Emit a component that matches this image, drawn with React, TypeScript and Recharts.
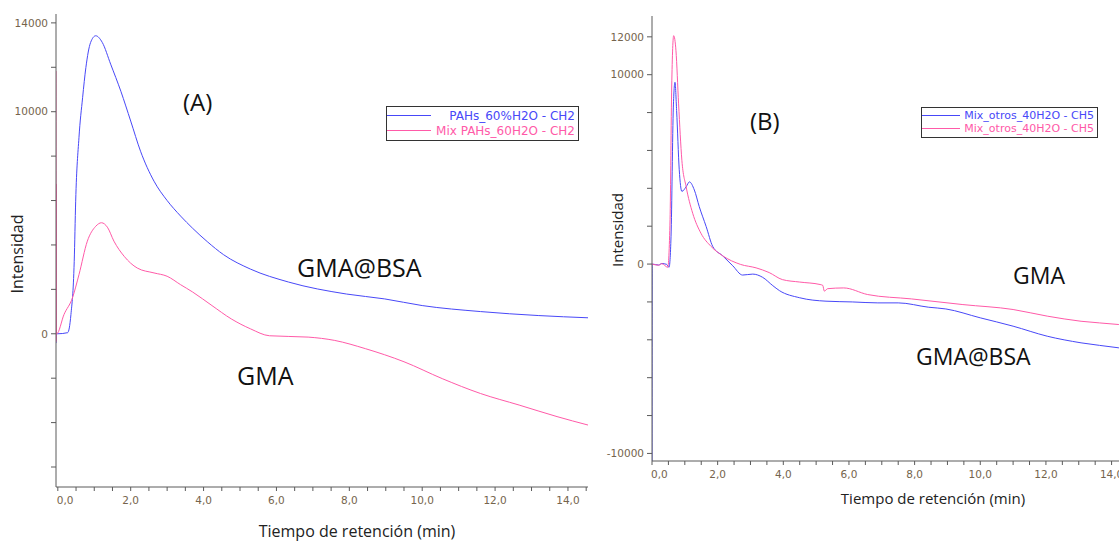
import { LineChart, Line, XAxis, YAxis, Legend, Label } from 'recharts';

// =============================================================================
// Data
// =============================================================================

// (A) retention time (min) / intensity
const timeA_bsa = [-0.05, -0.04, 0.0, 0.27, 0.36, 0.45, 0.49, 0.58, 0.68, 0.77, 0.9, 1.04, 1.22, 1.45, 1.73, 2.0, 2.27, 2.64, 3.0, 3.37, 3.7, 4.1, 4.55, 5.29, 6.33, 7.92, 8.97, 10.0, 11.6, 13.2, 14.55];
const intA_bsa = [-420, 0, 0, 50, 870, 3260, 5970, 8830, 10630, 11990, 13120, 13420, 13120, 12140, 10920, 9580, 8220, 6870, 6000, 5300, 4750, 4150, 3560, 2910, 2330, 1790, 1570, 1270, 1000, 820, 720];

const timeA_gma = [-0.05, -0.048, -0.046, -0.044, -0.03, 0.17, 0.4, 0.58, 0.81, 1.04, 1.2, 1.36, 1.54, 1.82, 2.18, 2.64, 3.0, 3.37, 3.7, 4.23, 4.76, 5.29, 5.81, 6.87, 7.6, 8.44, 9.5, 10.55, 11.6, 12.66, 13.7, 14.55];
const intA_gma = [11830, -350, 6740, 0, 0, 870, 1610, 2660, 4170, 4840, 5000, 4800, 4170, 3490, 2960, 2740, 2590, 2210, 1880, 1270, 670, 220, -90, -150, -300, -670, -1260, -2020, -2690, -3210, -3730, -4110];

// (B)
const timeB_bsa = [0, 0.005, 0.2, 0.3, 0.45, 0.52, 0.58, 0.65, 0.7, 0.75, 0.83, 0.91, 1.04, 1.14, 1.29, 1.44, 1.65, 1.85, 2.15, 2.46, 2.76, 3.07, 3.37, 3.68, 3.88, 4.5, 5.3, 6.1, 6.88, 7.5, 8.43, 8.95, 10.0, 11.0, 12.04, 13.07, 14.2, 14.5];
const intB_bsa = [-10400, 0, -50, 30, -20, -170, 1470, 8290, 9600, 8110, 4980, 3840, 4080, 4340, 3910, 3030, 1980, 930, 440, -90, -580, -530, -700, -1140, -1400, -1780, -1960, -2000, -2050, -2050, -2280, -2370, -2840, -3280, -3810, -4160, -4420, -4500];

const timeB_gma = [0, 0.2, 0.3, 0.48, 0.55, 0.6, 0.66, 0.73, 0.81, 0.91, 1.04, 1.24, 1.49, 1.8, 2.15, 2.7, 3.17, 3.57, 3.97, 4.5, 5.12, 5.2, 5.25, 5.35, 5.84, 6.57, 7.9, 9.47, 11.0, 12.04, 13.07, 14.2, 14.5];
const intB_gma = [0, -60, 20, -170, 2360, 9350, 12060, 11270, 8460, 5480, 4080, 2680, 1630, 930, 440, -20, -200, -450, -820, -950, -1080, -1120, -1430, -1300, -1260, -1610, -1840, -2140, -2400, -2750, -3020, -3190, -3250];

// axis ticks
const timeTicks = [0, 0.5, 1, 1.5, 2, 2.5, 3, 3.5, 4, 4.5, 5, 5.5, 6, 6.5, 7, 7.5, 8, 8.5, 9, 9.5, 10, 10.5, 11, 11.5, 12, 12.5, 13, 13.5, 14, 14.5];
const intTicksA = [-6000, -4000, -2000, 0, 2000, 4000, 6000, 8000, 10000, 12000, 14000];
const intLabelsA = [0, 10000, 14000];
const intTicksB = [-10000, -8000, -6000, -4000, -2000, 0, 2000, 4000, 6000, 8000, 10000, 12000];
const intLabelsB = [-10000, 0, 10000, 12000];

const legendA = ['PAHs_60%H2O - CH2', 'Mix PAHs_60H2O - CH2'];
const legendB = ['Mix_otros_40H2O - CH5', 'Mix_otros_40H2O - CH5'];

// =============================================================================
// Styles
// =============================================================================

const BLUE = '#4848f8';
const PINK = '#ff5aa8';
const AXIS = '#5a5a5a';
const TICK = { fontFamily: 'DejaVu Sans', fontSize: 10.5, fill: '#75644c' };
const TITLE_FONT = 'Open Sans';

const toRows = (t: number[], v: number[]) => t.map((x, i) => ({ t: x, v: v[i] }));
const fmtTime = (v: number) => (v % 2 === 0 ? v.toFixed(1).replace('.', ',') : '');

// x tick: first label sits to the right of the axis corner
function TimeTick({ x, y, payload }: any) {
  const label = fmtTime(payload.value);
  if (!label) return null;
  const first = payload.value === 0;
  return (
    <text x={first ? x - 1 : x} y={y} dy="0.71em" textAnchor={first ? 'start' : 'middle'} style={TICK}>
      {label}
    </text>
  );
}

function LegendBox({ payload, lineLen, rowH, fontSize }: any) {
  return (
    <div
      style={{
        border: '1.5px solid #333',
        background: '#fff',
        boxSizing: 'border-box',
        padding: '1px 3px 2px 0',
        fontFamily: 'DejaVu Sans',
        fontSize,
      }}
    >
      {(payload || []).map((p: any, i: number) => (
        <div key={i} style={{ display: 'flex', alignItems: 'center', height: rowH }}>
          <span style={{ width: lineLen, borderTop: `1.5px solid ${p.color}` }} />
          <span style={{ flex: 1, textAlign: 'right', color: p.color, whiteSpace: 'nowrap' }}>{p.value}</span>
        </div>
      ))}
    </div>
  );
}

function Note({ text, left, top, size }: { text: string; left: number; top: number; size: number }) {
  return (
    <div
      style={{
        position: 'absolute',
        left,
        top,
        fontFamily: TITLE_FONT,
        fontSize: size,
        lineHeight: 1,
        color: '#111',
        whiteSpace: 'nowrap',
      }}
    >
      {text}
    </div>
  );
}

const yTitle = (x: number, y: number, size: number) => () => (
  <text
    x={x}
    y={y}
    transform={`rotate(-90, ${x}, ${y})`}
    textAnchor="middle"
    dominantBaseline="central"
    style={{ fontFamily: TITLE_FONT, fontSize: size, fill: '#222' }}
  >
    Intensidad
  </text>
);

const xTitle = (x: number, y: number, size: number) => () => (
  <text x={x} y={y} textAnchor="middle" style={{ fontFamily: TITLE_FONT, fontSize: size, fill: '#222' }}>
    Tiempo de retención (min)
  </text>
);

export default function App() {
  return (
    <div style={{ position: 'relative', width: 1119, height: 543, overflow: 'hidden', background: '#fff' }}>
      <style>{'body{margin:0}'}</style>

      {/* (A) */}
      <div style={{ position: 'absolute', left: 0, top: 0 }}>
        <LineChart width={600} height={543} margin={{ top: 14, right: 12, bottom: 0, left: 6 }}>
          <XAxis
            type="number"
            dataKey="t"
            domain={[-0.05, 14.55]}
            allowDataOverflow
            ticks={timeTicks}
            interval={0}
            tick={<TimeTick />}
            tickSize={4}
            tickMargin={6}
            stroke={AXIS}
            height={56}
          >
            <Label content={xTitle(357, 537, 16)} />
          </XAxis>
          <YAxis
            type="number"
            domain={[-6900, 14400]}
            allowDataOverflow
            ticks={intTicksA}
            interval={0}
            tickFormatter={(v: number) => (intLabelsA.includes(v) ? String(v) : '')}
            tick={TICK}
            tickSize={5}
            tickMargin={3}
            stroke={AXIS}
            width={50}
          >
            <Label content={yTitle(17, 254, 16)} />
          </YAxis>
          <Legend
            layout="horizontal"
            verticalAlign="middle"
            align="center"
            itemSorter={null}
            wrapperStyle={{ left: 386, top: 106, width: 193 }}
            content={(props: any) => <LegendBox {...props} lineLen={44} rowH={15} fontSize={12} />}
          />
          <Line
            data={toRows(timeA_bsa, intA_bsa)}
            dataKey="v"
            name={legendA[0]}
            type="monotone"
            stroke={BLUE}
            strokeWidth={1}
            dot={false}
            isAnimationActive={false}
          />
          <Line
            data={toRows(timeA_gma, intA_gma)}
            dataKey="v"
            name={legendA[1]}
            type="monotone"
            stroke={PINK}
            strokeWidth={1}
            dot={false}
            isAnimationActive={false}
          />
        </LineChart>
      </div>

      {/* (B) */}
      <div style={{ position: 'absolute', left: 560, top: 0 }}>
        <LineChart width={580} height={543} margin={{ top: 16, right: 12, bottom: 0, left: 42 }}>
          <XAxis
            type="number"
            dataKey="t"
            domain={[0, 14.5]}
            allowDataOverflow
            ticks={timeTicks}
            interval={0}
            tick={<TimeTick />}
            tickSize={4}
            tickMargin={6}
            stroke={AXIS}
            height={82}
          >
            <Label content={xTitle(373, 504, 15)} />
          </XAxis>
          <YAxis
            type="number"
            domain={[-10400, 13100]}
            allowDataOverflow
            ticks={intTicksB}
            interval={0}
            tickFormatter={(v: number) => (intLabelsB.includes(v) ? String(v) : '')}
            tick={TICK}
            tickSize={5}
            tickMargin={3}
            stroke={AXIS}
            width={50}
          >
            <Label content={yTitle(57, 230, 15)} />
          </YAxis>
          <Legend
            layout="horizontal"
            verticalAlign="middle"
            align="center"
            itemSorter={null}
            wrapperStyle={{ left: 361, top: 107, width: 177 }}
            content={(props: any) => <LegendBox {...props} lineLen={38} rowH={13} fontSize={11} />}
          />
          <Line
            data={toRows(timeB_bsa, intB_bsa)}
            dataKey="v"
            name={legendB[0]}
            type="monotone"
            stroke={BLUE}
            strokeWidth={1}
            dot={false}
            isAnimationActive={false}
          />
          <Line
            data={toRows(timeB_gma, intB_gma)}
            dataKey="v"
            name={legendB[1]}
            type="monotone"
            stroke={PINK}
            strokeWidth={1}
            dot={false}
            isAnimationActive={false}
          />
        </LineChart>
      </div>

      <Note text="(A)" left={183} top={90} size={24} />
      <Note text="GMA@BSA" left={297} top={255} size={25} />
      <Note text="GMA" left={237} top={363} size={25} />
      <Note text="(B)" left={750} top={109} size={24} />
      <Note text="GMA" left={1013} top={264} size={23} />
      <Note text="GMA@BSA" left={916} top={345} size={23} />
    </div>
  );
}
